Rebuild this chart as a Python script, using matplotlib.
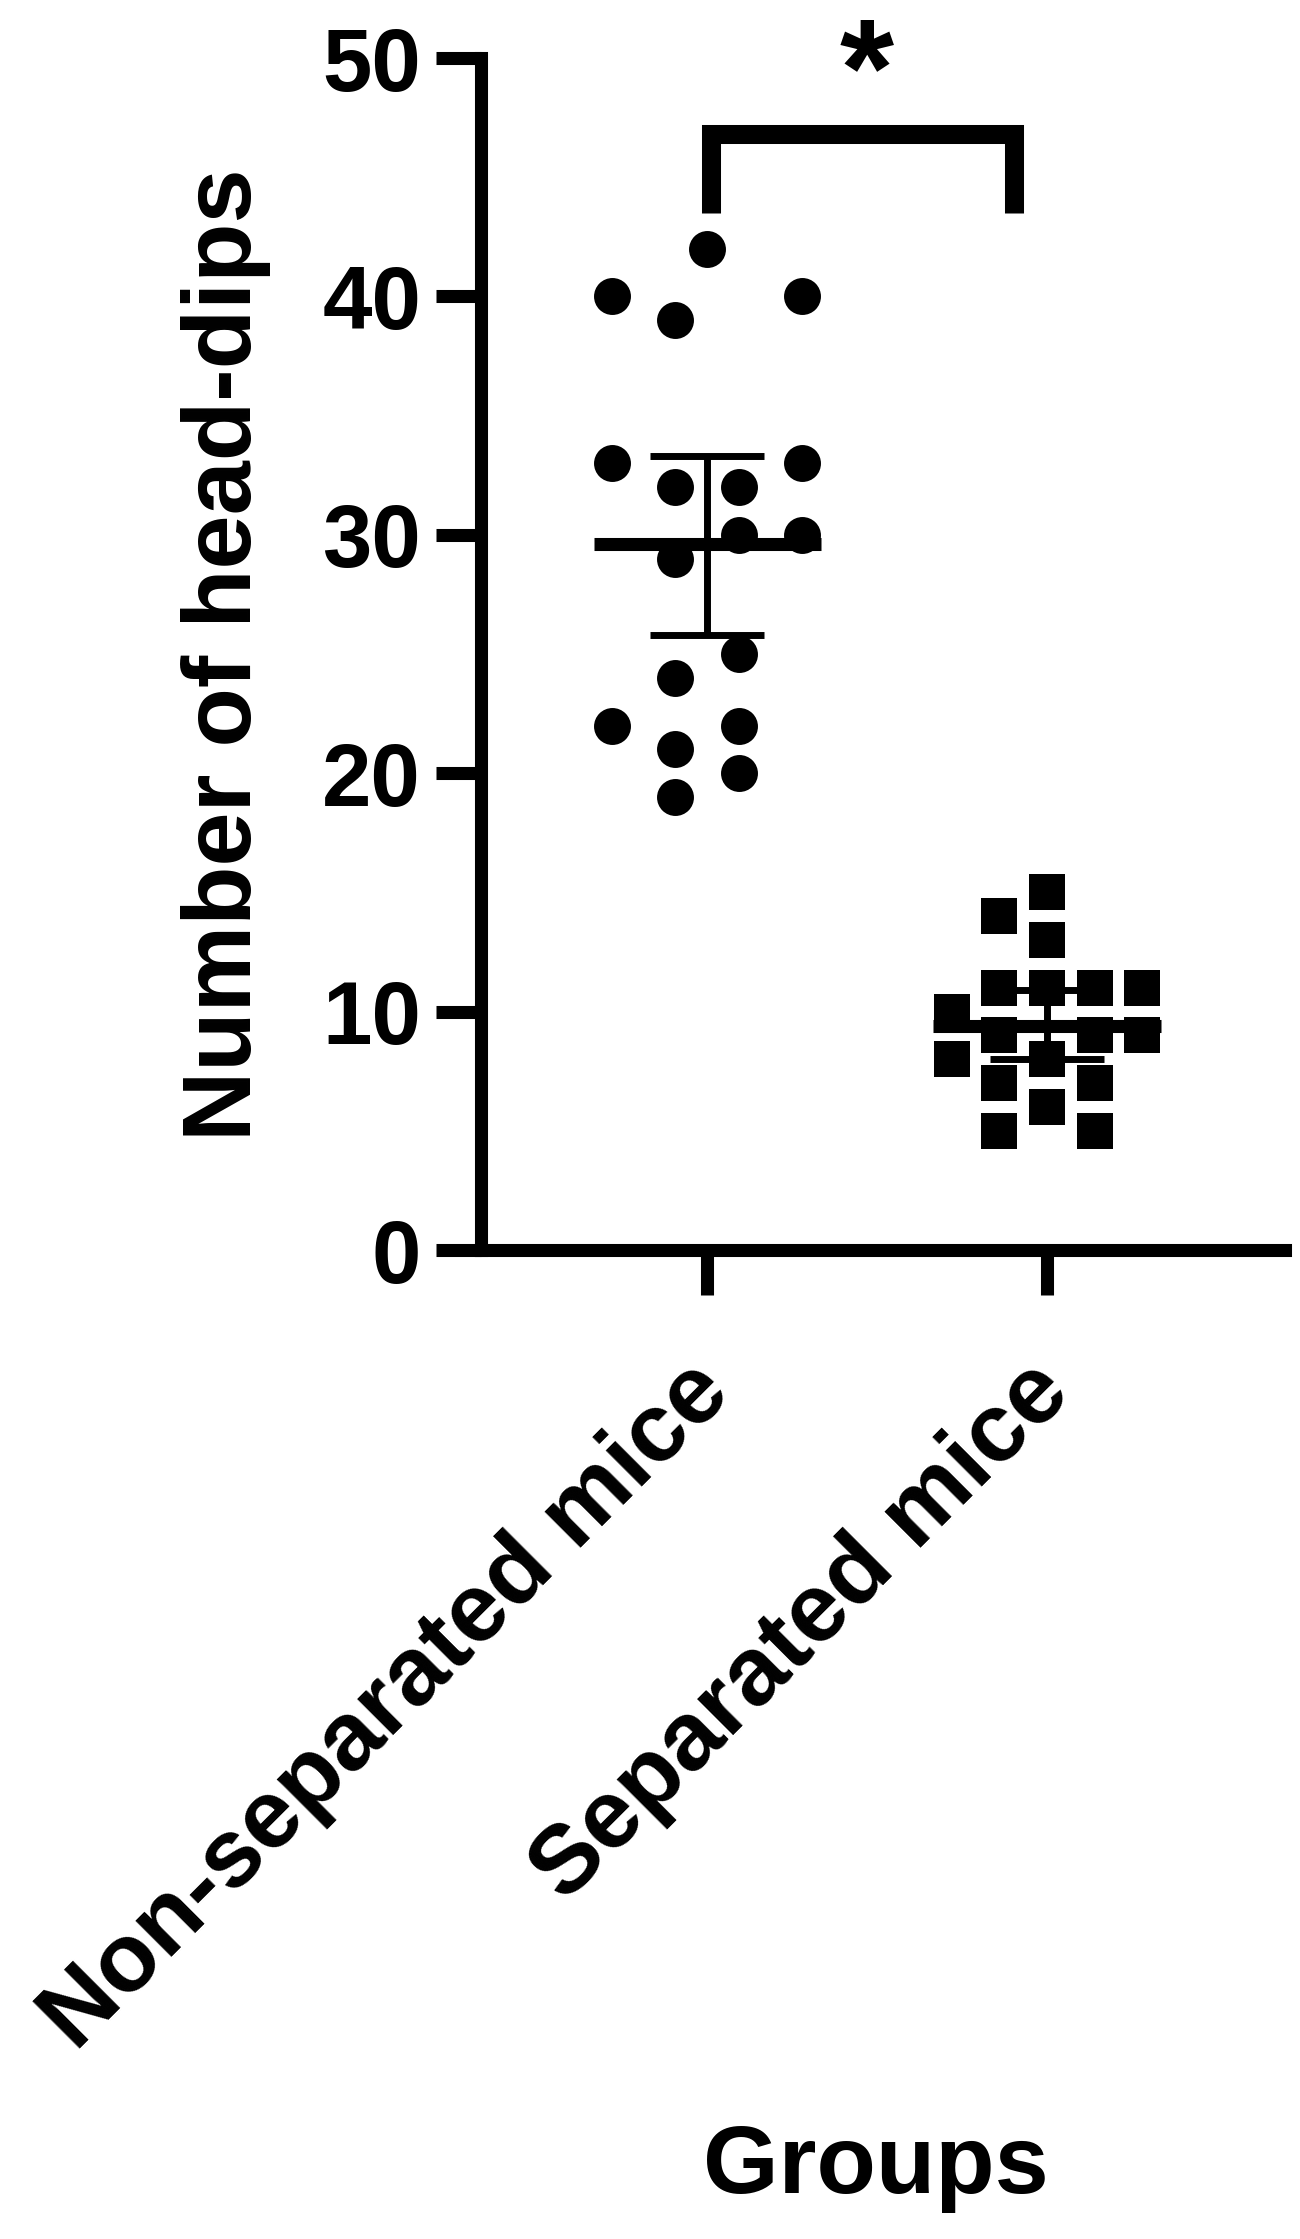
import numpy as np
import matplotlib.pyplot as plt

plt.rcParams['font.family'] = ['Liberation Sans', 'DejaVu Sans']
plt.rcParams['font.weight'] = 'bold'

groups = ['Non-separated mice', 'Separated mice']

# number of head-dips per mouse, with the horizontal spread used in the scatter
non_sep_vals = [42, 40, 40, 39, 33, 33, 32, 32, 30, 30, 29, 25, 24, 22, 22, 21, 20, 19]
non_sep_offsets = [0, -0.28, 0.28, -0.094, -0.28, 0.28, -0.094, 0.094, 0.094, 0.28,
                   -0.094, 0.094, -0.094, -0.28, 0.094, -0.094, 0.094, -0.094]
sep_vals = [15, 14, 13, 11, 11, 11, 11, 10, 9, 9, 9, 8, 8, 7, 7, 6, 5, 5]
sep_offsets = [0, -0.14, 0, -0.14, 0, 0.14, 0.28, -0.28, -0.14, 0.14, 0.28,
               -0.28, 0, -0.14, 0.14, 0, -0.14, 0.14]

# 95% CI bounds
ci_low = [25.8, 8.0]
ci_high = [33.3, 10.9]

W, H = 1300, 2239
fig = plt.figure(figsize=(W / 100, H / 100), dpi=100)
ax = fig.add_axes([481 / W, 1 - 1250 / H, (1285 - 481) / W, (1250 - 58) / H])

ax.plot(np.array(non_sep_offsets) + 0, non_sep_vals, 'o', color='black',
        markersize=26.6, mew=0, zorder=2, clip_on=False)
ax.plot(np.array(sep_offsets) + 1, sep_vals, 's', color='black',
        markersize=26.6, mew=0, zorder=2, clip_on=False)

means = [np.mean(non_sep_vals), np.mean(sep_vals)]
for i, m in enumerate(means):
    ax.plot([i - 0.334, i + 0.334], [m, m], color='black', lw=9.4,
            solid_capstyle='butt', zorder=3)
    ax.plot([i, i], [ci_low[i], ci_high[i]], color='black', lw=5,
            solid_capstyle='butt', zorder=3)
    for y in (ci_low[i], ci_high[i]):
        ax.plot([i - 0.168, i + 0.168], [y, y], color='black', lw=5,
                solid_capstyle='butt', zorder=3)

# significance bracket
ax.plot([0.013, 0.013, 0.904, 0.904], [43.5, 46.8, 46.8, 43.5], color='black',
        lw=13.7, solid_joinstyle='miter', solid_capstyle='butt', clip_on=False)
ax.text(0.468, 47.6, '*', ha='center', va='baseline', fontsize=100,
        fontweight='bold', clip_on=False)

ax.set_xlim(-0.665, 1.70)
ax.set_ylim(0, 50)
ax.set_yticks([0, 10, 20, 30, 40, 50])
ax.set_xticks([0, 1])
ax.set_xticklabels([])

# rotated group names, right end of baseline just below each tick
for i, name in enumerate(groups):
    ax.annotate(name, xy=(i, 0), xycoords=('data', 'axes fraction'),
                xytext=(18.7, -105), textcoords='offset points',
                rotation=45, rotation_mode='anchor', ha='right', va='baseline',
                fontsize=70, fontweight='bold', annotation_clip=False)

for s in ['top', 'right']:
    ax.spines[s].set_visible(False)
for s in ['left', 'bottom']:
    ax.spines[s].set_linewidth(9.4)

ax.tick_params(axis='y', length=32.4, width=9.4, pad=10.8, labelsize=64)
ax.tick_params(axis='x', length=32.4, width=9.4)

fig.text(226 / W, 1 - 655 / H, 'Number of head-dips', rotation=90,
         ha='center', va='center', fontsize=70, fontweight='bold')
fig.text(876 / W, 1 - 2193 / H, 'Groups', ha='center', va='baseline',
         fontsize=70, fontweight='bold')

fig.savefig('out.png', dpi=100)
